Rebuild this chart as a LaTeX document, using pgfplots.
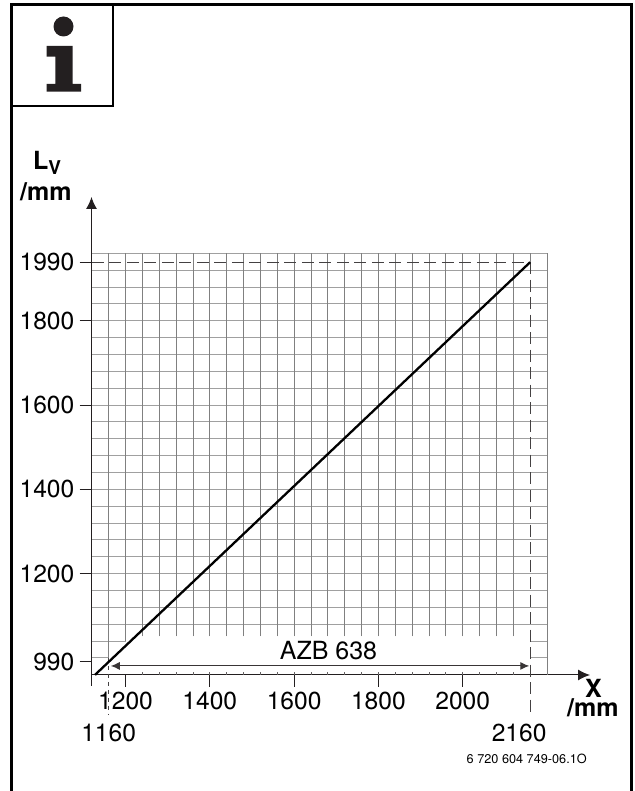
\documentclass[border=0pt]{standalone}
\usepackage{fontspec}
\setmainfont{TeX Gyre Heros}
\usepackage{pgfplots}
\pgfplotsset{compat=1.18}
\usetikzlibrary{arrows.meta}
\definecolor{ink}{HTML}{231F20}
\definecolor{gridv}{HTML}{808080}
\definecolor{gridh}{HTML}{A0A0A0}
\begin{document}
\begin{tikzpicture}[x=1pt,y=1pt]
\path[use as bounding box] (0,0) rectangle (634,791);
\fontsize{24}{28}\selectfont
% frame
\draw[black,line width=3pt] (11.5,0) -- (11.5,786) -- (631,786) -- (631,0);
\draw[black,line width=2pt] (112.5,786) -- (112.5,684.5) -- (11.5,684.5);
% info icon
\fill[ink] (63.5,764.5) circle (10);
\fill[ink] (46.7,745) -- (72.7,745) -- (72.7,707) -- (81,707) -- (81,699.3) -- (46.7,699.3) -- (46.7,707) -- (55.3,707) -- (55.3,734.3) -- (46.7,734.3) -- cycle;
\begin{axis}[
  at={(91.5pt,116pt)}, anchor=south west,
  scale only axis, width=498.5pt, height=478pt,
  xmin=1119.3, xmax=2302, ymin=959.5, ymax=2093.7,
  clip=false,
  axis x line=bottom, axis y line=left,
  axis line style={ink,line width=1pt,-{Latex[length=12pt,width=11pt]}},
  tick style={ink,line width=1pt},
  tick align=outside, major tick length=12pt,
  minor tick length=0pt,
  xtick={1200,1400,1600,1800,2000},
  xticklabels={1200,1400,1600,1800,2000},
  % the source draws its 1990 mark at this height on the scale of the other marks
  ytick={991,1200,1400,1600,1800,1939},
  yticklabels={990,1200,1400,1600,1800,1990},
  extra x ticks={1160,2160},
  extra x tick labels={1160,\kern-22pt 2160},
  extra x tick style={major tick length=0pt, xticklabel style={yshift=-44pt}},
  tick label style={font=\fontsize{24.6}{28}\selectfont},
  xticklabel style={inner sep=0pt, yshift=-5pt},
  yticklabel style={inner sep=0pt, xshift=-5pt},
]
% grid
\pgfplotsinvokeforeach{1080,1120,...,1960}{
  \draw[gridh,line width=1.1pt] (axis cs:1120,#1) -- (axis cs:2200,#1);
}
\draw[gridh,line width=1.1pt] (axis cs:1120,1040) -- (axis cs:1200,1040);
\draw[gridh,line width=1.1pt] (axis cs:1120,1000) -- (axis cs:1160,1000);
\draw[gridh,line width=1.1pt] (axis cs:2160,1040) -- (axis cs:2200,1040);
\draw[gridh,line width=1.1pt] (axis cs:2160,1000) -- (axis cs:2200,1000);
\pgfplotsinvokeforeach{1240,1280,...,2120}{
  \draw[gridv,line width=.9pt] (axis cs:#1,1051) -- (axis cs:#1,1960);
  \draw[ink!70,line width=.8pt] (axis cs:#1,959.5) -- (axis cs:#1,967);
}
\draw[gridv,line width=.9pt] (axis cs:1160,1000) -- (axis cs:1160,1960);
\draw[gridv,line width=.9pt] (axis cs:1200,1040) -- (axis cs:1200,1960);
\draw[gridv,line width=.9pt] (axis cs:2160,1939) -- (axis cs:2160,1960);
\draw[gridv,line width=.9pt] (axis cs:2200,959.5) -- (axis cs:2200,1960);
% axis foot and dashes
\draw[ink,line width=1pt] (axis cs:1119.3,959.5) -- (axis cs:1119.3,933);
\addplot[ink!85,line width=1.1pt,dash pattern=on 12pt off 5.5pt] coordinates {(1120,1939) (2160,1939)};
\addplot[ink!85,line width=1.1pt,dash pattern=on 12pt off 5.5pt] coordinates {(2160,1939) (2160,865)};
\addplot[ink!85,line width=1pt,dash pattern=on 4pt off 4pt] coordinates {(1160,1000) (1160,865)};
% AZB range
\addplot[ink!90,line width=1.1pt,{Latex[length=9pt,width=8pt]}-{Latex[length=9pt,width=8pt]}] coordinates {(1165,981) (2158,981)};
% main line
\addplot[black,line width=2.3pt] coordinates {(1127.5,959.7) (2160,1939)};
\end{axis}
\node[anchor=base,inner sep=0,font=\fontsize{25}{28}\selectfont] at (328.5,131.7) {AZB 638};
\node[anchor=base west,inner sep=0,font=\bfseries\fontsize{25}{28}\selectfont] at (33,621) {L\raisebox{-5pt}{\fontsize{19}{20}\selectfont V}};
\node[anchor=base west,inner sep=0,font=\bfseries\fontsize{25}{28}\selectfont] at (20,590) {/mm};
\node[anchor=base west,inner sep=0,font=\bfseries\fontsize{25}{28}\selectfont] at (585,93) {X};
\node[anchor=base west,inner sep=0,font=\bfseries\fontsize{25}{28}\selectfont] at (567,74) {/mm};
\node[anchor=base,inner sep=0,font=\fontsize{12.7}{14}\selectfont] at (526.7,27) {6 720 604 749-06.1O};
\end{tikzpicture}
\end{document}
